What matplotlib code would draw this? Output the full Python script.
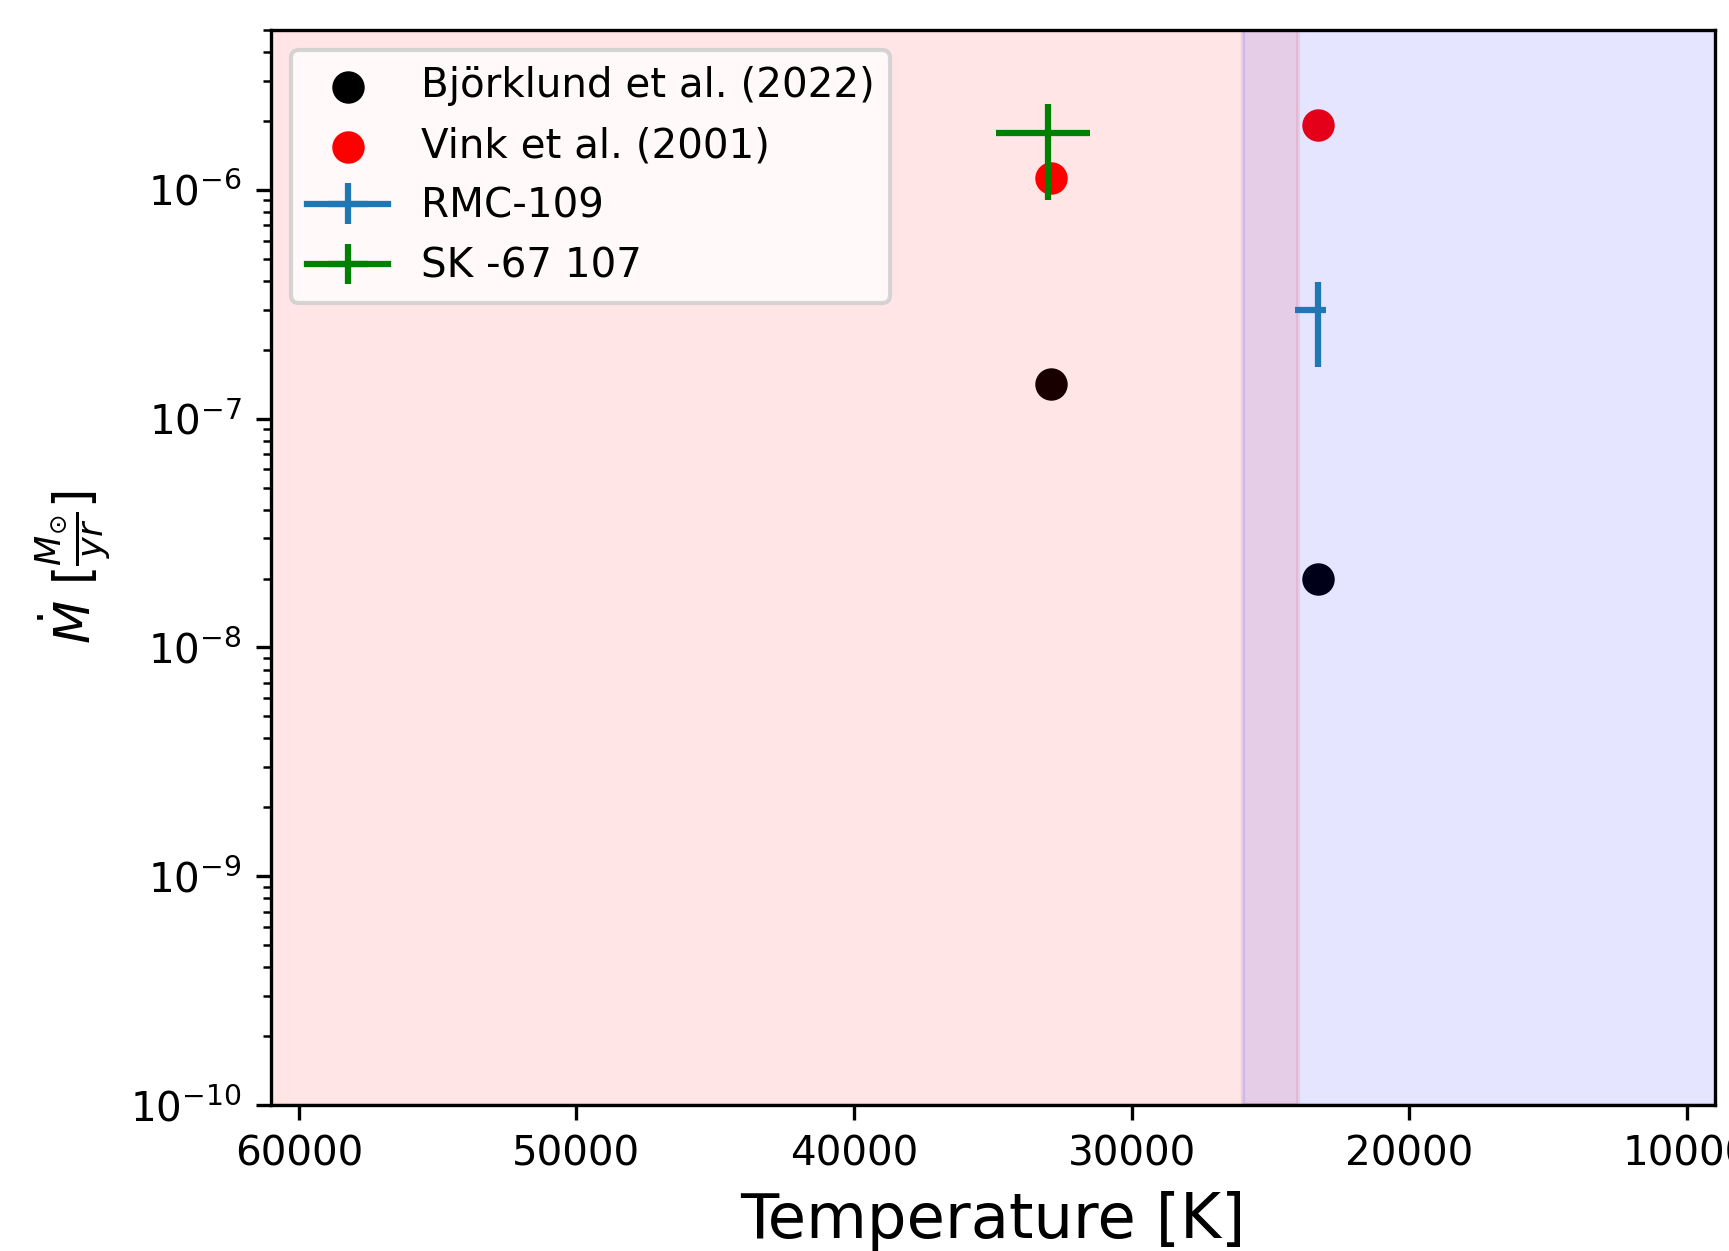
import matplotlib
matplotlib.use("Agg")
import matplotlib.pyplot as plt

# Data
bjorklund_T = [32900, 23300]
bjorklund_mdot = [1.415e-7, 2.0e-8]
vink_T = [32900, 23300]
vink_mdot = [1.13e-6, 1.92e-6]

rmc_T = [23300]
rmc_mdot = [2.99e-7]
rmc_xerr = [[300], [800]]
rmc_yerr = [[1.3e-7], [0.98e-7]]

sk_T = [33000]
sk_mdot = [1.78e-6]
sk_xerr = [[1500], [1900]]
sk_yerr = [[0.88e-6], [0.59e-6]]

hot_region = (24000, 70000)
cool_region = (0, 26000)

xlim = (61000, 9000)
ylim = (1e-10, 5e-6)

DPI = 300
fig = plt.figure(figsize=(1729 / DPI, 1251 / DPI), dpi=DPI)
ax = fig.add_axes([271 / 1729, 146 / 1251, (1714.7 - 271) / 1729, 1075 / 1251])

ax.scatter(bjorklund_T, bjorklund_mdot, color="black", s=46, label="Björklund et al. (2022)")
ax.scatter(vink_T, vink_mdot, color="red", s=46, label="Vink et al. (2001)")

ax.axvspan(*hot_region, color="red", alpha=0.1)
ax.axvspan(*cool_region, color="blue", alpha=0.1)

ax.errorbar(rmc_T, rmc_mdot, xerr=rmc_xerr, yerr=rmc_yerr,
            color="tab:blue", label="RMC-109")
ax.errorbar(sk_T, sk_mdot, xerr=sk_xerr, yerr=sk_yerr,
            color="green", label="SK -67 107")

ax.set_yscale("log")
ax.set_xlim(*xlim)
ax.set_ylim(*ylim)

ax.set_xlabel("Temperature [K]", fontsize=15)
ax.set_ylabel(r"$\dot{M}\ [\frac{M_{\odot}}{yr}]$", fontsize=12)

ax.tick_params(axis="both", which="major", labelsize=9.7)

ax.legend(loc="upper left", fontsize=9.7)

fig.savefig("out.png", dpi=DPI)
